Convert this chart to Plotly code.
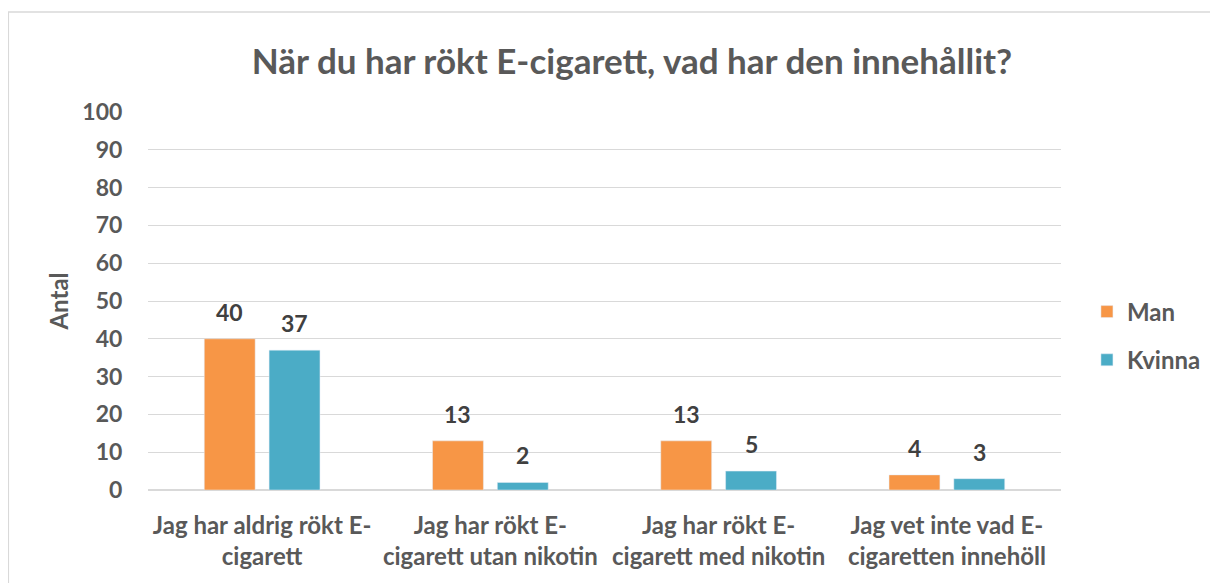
import plotly.graph_objects as go

categories = ["Jag har aldrig rökt E-<br>cigarett",
              "Jag har rökt E-<br>cigarett utan nikotin",
              "Jag har rökt E-<br>cigarett med nikotin",
              "Jag vet inte vad E-<br>cigaretten innehöll"]
man = [40, 13, 13, 4]
kvinna = [37, 2, 5, 3]
y_ticks = [0, 10, 20, 30, 40, 50, 60, 70, 80, 90, 100]

FONT = "Lato"
GREY = "#595959"
OFF = 8  # page body margin
W, H = 1218 - OFF, 583 - OFF
L, R, T, B = 148 - OFF, 155, 112 - OFF, 93
pw, ph = W - L - R, H - T - B

fig = go.Figure()
fig.add_trace(go.Bar(name="Man", x=categories, y=man, marker_color="#F79646",
                     legendgroup="a"))
fig.add_trace(go.Bar(name="Kvinna", x=categories, y=kvinna, marker_color="#4BACC6",
                     legendgroup="b"))

annotations = []
for vals, shift in ((man, -32.5), (kvinna, 32.5)):
    for c, v in zip(categories, vals):
        annotations.append(dict(x=c, y=v, xref="x", yref="y", text=str(v),
                                showarrow=False, xshift=shift, yanchor="bottom", yshift=11,
                                font=dict(family=FONT, size=23, color="#404040", weight="bold")))

fig.update_layout(
    width=W, height=H,
    margin=dict(l=L, r=R, t=T, b=B),
    paper_bgcolor="white", plot_bgcolor="white",
    barmode="group", bargap=0.432, bargroupgap=0.215,
    title=dict(text="<b>När du har rökt E-cigarett, vad har den innehållit?</b>",
               x=(632 - OFF) / W, xanchor="center", xref="container",
               y=1 - (62 - OFF) / H, yanchor="middle", yref="container",
               font=dict(family=FONT, size=35, color=GREY)),
    font=dict(family=FONT, color=GREY),
    legend=dict(x=(1089 - 148) / pw, xanchor="left", y=(490 - 336) / ph, yanchor="middle",
                font=dict(family=FONT, size=24, color=GREY, weight="bold"),
                tracegroupgap=14, itemwidth=30, bgcolor="rgba(0,0,0,0)"),
    annotations=annotations,
    shapes=[dict(type="rect", xref="paper", yref="paper",
                 x0=(8 - 148) / pw, x1=(1216 - 148) / pw,
                 y0=(490 - 600) / ph, y1=(490 - 12) / ph,
                 line=dict(color="#d9d9d9", width=1.5), fillcolor="rgba(0,0,0,0)",
                 layer="below")],
)
fig.update_yaxes(range=[0, 100], tickvals=y_ticks, showgrid=True, gridcolor="#d9d9d9",
                 gridwidth=1, zeroline=True, zerolinecolor="#d9d9d9", showline=False,
                 ticks="outside", ticklen=20, tickcolor="rgba(0,0,0,0)",
                 tickfont=dict(family=FONT, size=23, color=GREY, weight="bold"),
                 title=dict(text="<b>Antal</b>", standoff=6,
                            font=dict(family=FONT, size=24, color=GREY)))
fig.update_xaxes(showgrid=False, showline=False, ticks="outside", ticklen=14,
                 tickcolor="rgba(0,0,0,0)",
                 tickfont=dict(family=FONT, size=24, color=GREY, weight="bold"))

fig.write_html("out.html")
